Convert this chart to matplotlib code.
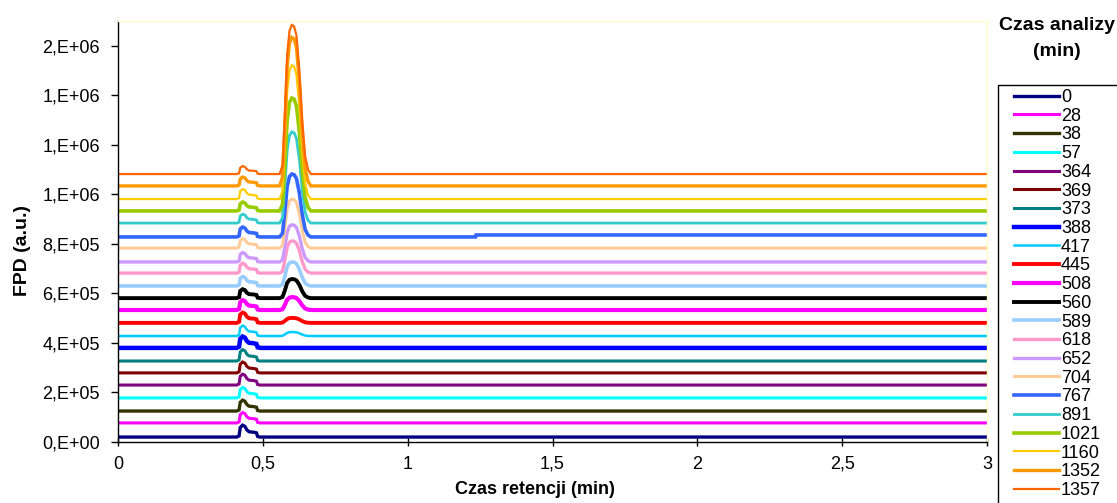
import numpy as np
import matplotlib
matplotlib.use("Agg")
import matplotlib.pyplot as plt
from matplotlib.patches import Rectangle

# ---------------- data ----------------
analysis_times = ['0', '28', '38', '57', '364', '369', '373', '388', '417', '445',
                  '508', '560', '589', '618', '652', '704', '767', '891', '1021',
                  '1160', '1352', '1357']

# baseline level of every chromatogram (a.u.)
baselines = [20000, 77000, 125000, 178000, 230000, 279000, 327000, 380000, 428000,
             481000, 533000, 581000, 630000, 682000, 727000, 783000, 828000, 884000,
             933000, 981000, 1034000, 1082000]

# height of the first peak (~0.43 min)
peak1_heights = [48000, 42000, 44000, 42000, 44000, 44000, 46000, 46000, 42000,
                 42000, 40000, 36000, 38000, 40000, 38000, 38000, 40000, 36000,
                 36000, 40000, 36000, 32000]

# height of the second peak (~0.60 min)
peak2_heights = [0, 0, 0, 0, 0, 0, 0, 0, 16000, 20000, 52000, 77000, 97000, 130000,
                 150000, 198000, 254000, 368000, 456000, 541000, 600000, 602000]

# late baseline shift (trace 767 steps up at ~1.235 min)
shift_time = [None] * 16 + [1.235] + [None] * 5
shift_height = [0] * 16 + [8000] + [0] * 5

peak1_t = [0.410, 0.418, 0.422, 0.430, 0.438, 0.445, 0.452, 0.470, 0.478, 0.482, 0.490]
peak1_rel = [0.0, 0.1, 0.8, 1.0, 0.9, 0.6, 0.45, 0.40, 0.35, 0.05, 0.0]
peak2_t = [0.558, 0.568, 0.576, 0.584, 0.592, 0.600, 0.608, 0.616, 0.626, 0.636, 0.646, 0.656, 0.666]
peak2_rel = [0.0, 0.06, 0.40, 0.80, 0.96, 1.0, 0.99, 0.93, 0.70, 0.36, 0.12, 0.03, 0.0]

x_ticks = [0, 0.5, 1, 1.5, 2, 2.5, 3]
x_tick_labels = ['0', '0,5', '1', '1,5', '2', '2,5', '3']
y_ticks = [0, 200000, 400000, 600000, 800000, 1000000, 1200000, 1400000, 1600000]
y_tick_labels = ['0,E+00', '2,E+05', '4,E+05', '6,E+05', '8,E+05',
                 '1,E+06', '1,E+06', '1,E+06', '2,E+06']

# ---------------- styles ----------------
colors = ['#000080', '#FF00FF', '#333300', '#00FFFF', '#800080', '#800000', '#008080',
          '#0000FF', '#00CCFF', '#FF0000', '#FF00FF', '#000000', '#99CCFF', '#FF99CC',
          '#CC99FF', '#FFCC99', '#3366FF', '#33CCCC', '#99CC00', '#FFCC00', '#FF9900',
          '#FF6600']
widths = [2.4, 2.2, 2.4, 2.2, 2.2, 2.2, 2.2, 3.2, 1.8, 2.8, 3.0, 2.8, 2.6, 2.4,
          2.4, 2.2, 2.6, 2.0, 2.6, 1.6, 2.4, 1.6]

plt.rcParams['font.family'] = ['Liberation Sans', 'DejaVu Sans']

W, H = 1117, 503
fig = plt.figure(figsize=(W / 100, H / 100), dpi=100)
ax = fig.add_axes([118 / W, 61 / H, 869 / W, 421 / H])

t_grid = np.array(sorted(set([0.0, 3.0] + peak1_t + peak2_t + [1.234, 1.236])))
for i, name in enumerate(analysis_times):
    y = (baselines[i]
         + peak1_heights[i] * np.interp(t_grid, peak1_t, peak1_rel)
         + peak2_heights[i] * np.interp(t_grid, peak2_t, peak2_rel))
    if shift_time[i] is not None:
        y = y + np.where(t_grid >= shift_time[i], shift_height[i], 0)
    ax.plot(t_grid, y, color=colors[i], lw=widths[i], label=name,
            solid_joinstyle='miter')

ax.set_xlim(0, 3)
ax.set_ylim(0, 1700000)
ax.set_xticks(x_ticks)
ax.set_xticklabels(x_tick_labels, fontsize=13)
ax.set_yticks(y_ticks)
ax.set_yticklabels(y_tick_labels, fontsize=13)
ax.tick_params(axis='y', direction='out', length=5, width=1, pad=8)
ax.tick_params(axis='x', direction='inout', length=6, width=1, pad=7)
for s in ['left', 'bottom']:
    ax.spines[s].set_color('black')
    ax.spines[s].set_linewidth(1)
for s in ['top', 'right']:
    ax.spines[s].set_color('#FFFFC8')
    ax.spines[s].set_linewidth(1)

ax.set_xlabel('Czas retencji (min)', fontsize=13, fontweight='bold')
ax.xaxis.set_label_coords((535 - 118) / 869, -(489 - 442) / 421)
ax.xaxis.label.set_va('center')
ax.set_ylabel('FPD (a.u.)', fontsize=14, fontweight='bold')
ax.yaxis.set_label_coords(-(118 - 22) / 869, (442 - 250) / 421)
ax.yaxis.label.set_va('center')

fig.text(1057 / W, 1 - 26 / H, 'Czas analizy', ha='center', va='center',
         fontsize=14, fontweight='bold')
fig.text(1057 / W, 1 - 51 / H, '(min)', ha='center', va='center',
         fontsize=14, fontweight='bold')

# legend frame (runs past the right and bottom edges, as in the reference)
fig.patches.append(Rectangle((998 / W, -0.05), 0.2, 1 - 85 / H + 0.05,
                             transform=fig.transFigure, fill=False,
                             edgecolor='black', lw=1))
leg = fig.legend(loc='upper left', bbox_to_anchor=(1014 / W, 1 - 89 / H),
                 fontsize=13, frameon=False,
                 handlelength=2.5, handletextpad=0.1, labelspacing=0.095,
                 borderpad=0.0, borderaxespad=0)

fig.savefig('out.png', dpi=100, facecolor='white')
